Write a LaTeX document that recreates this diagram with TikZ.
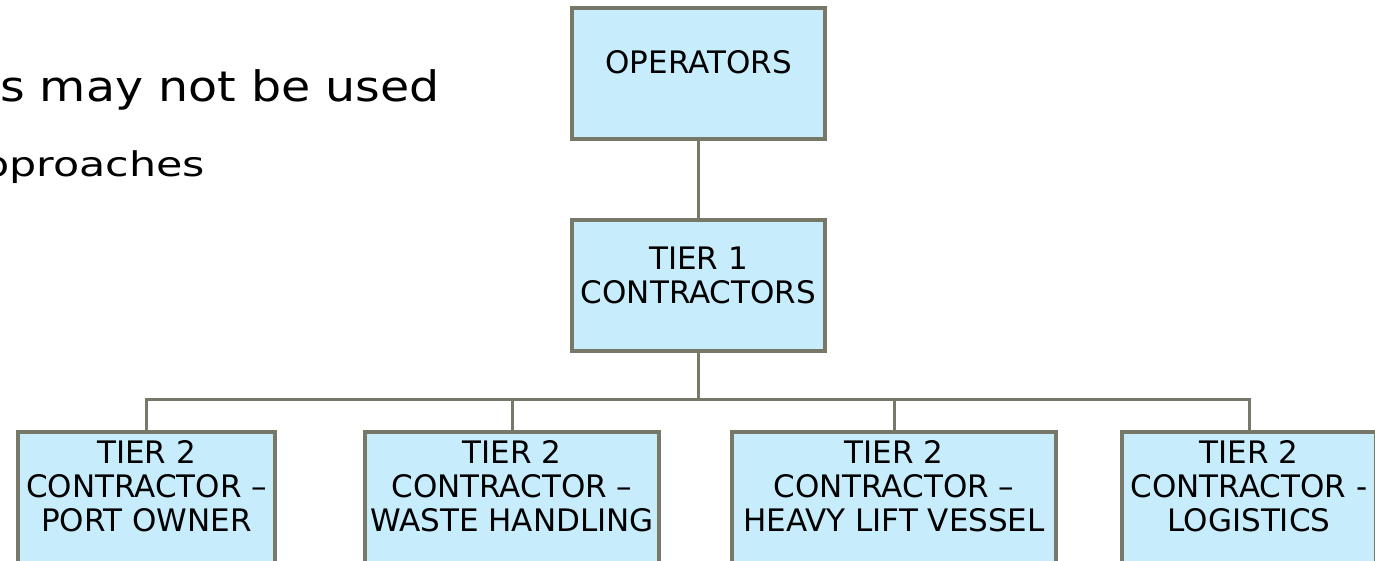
\documentclass[tikz,border=0pt]{standalone}
\usepackage{fontspec}
\setmainfont{DejaVu Sans}
\newfontfamily\widefont[FakeStretch=1.13]{DejaVu Sans}
\newfontfamily\widerfont[FakeStretch=1.26]{DejaVu Sans}
\usetikzlibrary{positioning}
\definecolor{boxfill}{HTML}{C7EDFD}
\definecolor{boxline}{HTML}{787868}

\begin{document}
\begin{tikzpicture}[x=1pt, y=-1pt,
  orgbox/.style={draw=boxline, line width=4pt, fill=boxfill, inner sep=0pt,
    align=center, anchor=north, font=\fontsize{31}{34}\selectfont},
  link/.style={draw=boxline, line width=3pt}]
  \useasboundingbox (0,0) rectangle (1375,560);

  % Text on the left
  \node[anchor=base west, inner sep=0pt, font=\widefont\fontsize{42}{50}\selectfont] (usetext) at (0,101) {s may not be used};
  \node[anchor=base west, inner sep=0pt, font=\widerfont\fontsize{34}{40}\selectfont] (approach) at (-18,176) {pproaches};

  % Operators and tier 1
  \node[orgbox, minimum width=253pt, text height=65pt, text depth=66pt] (operators) at (698.5,6) {OPERATORS};
  \node[orgbox, minimum width=253pt, text height=83pt, text depth=48pt] (tierone) at (698.5,218) {TIER 1\\CONTRACTORS};

  % Tier 2 row
  \node[orgbox, minimum width=257pt, text height=99pt, text depth=72pt] (port) at (146.5,430) {TIER 2\\CONTRACTOR --\\PORT OWNER};
  \node[orgbox, minimum width=294pt, text height=99pt, text depth=72pt] (waste) at (512,430) {TIER 2\\CONTRACTOR --\\WASTE HANDLING};
  \node[orgbox, minimum width=324pt, text height=99pt, text depth=72pt] (heavy) at (894,430) {TIER 2\\CONTRACTOR --\\HEAVY LIFT VESSEL};
  \node[orgbox, minimum width=254pt, text height=99pt, text depth=72pt] (logistics) at (1249,430) {TIER 2\\CONTRACTOR -\\LOGISTICS};

  % Connectors
  \draw[link] (operators.south) -- (tierone.north);
  \foreach \n in {port,waste,heavy,logistics}
    \draw[link] (tierone.south) -- ++(0,46) -| (\n.north);

\end{tikzpicture}
\end{document}
